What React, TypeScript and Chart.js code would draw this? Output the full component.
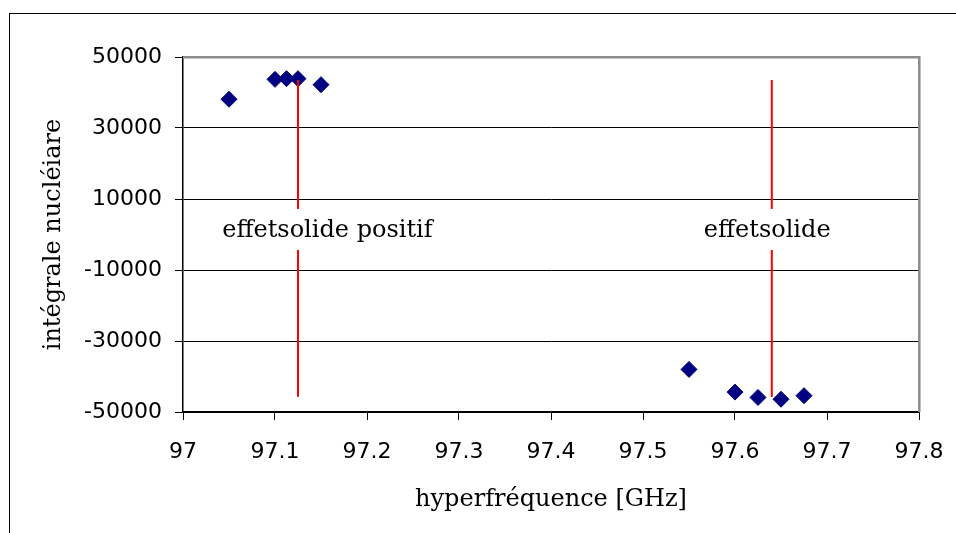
import React, { useEffect, useRef } from "react";
import { Chart, registerables } from "chart.js";

Chart.register(...registerables);

// Data
const frequencies = [97.05, 97.1, 97.1125, 97.125, 97.15, 97.55, 97.6, 97.625, 97.65, 97.675];
const integrals = [38100, 43700, 43900, 43900, 42200, -38000, -44400, -45900, -46400, -45400];

// Red marker lines
const markerX = [97.125, 97.64];
const markerTop = [43500, 43500];
const markerBottom = [-45700, -45800];

// Annotation texts
const annotationTexts = ["effetsolide positif", "effetsolide"];
const annotationX = [97.157, 97.635];
const annotationY = [1000, 1000];

// Ticks
const xTickValues = [97, 97.1, 97.2, 97.3, 97.4, 97.5, 97.6, 97.7, 97.8];
const xTickLabels = ["97", "97.1", "97.2", "97.3", "97.4", "97.5", "97.6", "97.7", "97.8"];
const yTickValues = [-50000, -30000, -10000, 10000, 30000, 50000];
const yTickLabels = ["-50000", "-30000", "-10000", "10000", "30000", "50000"];

const xTitle = "hyperfréquence [GHz]";
const yTitle = "intégrale nucléiare";

export default function App() {
  const canvasRef = useRef<HTMLCanvasElement | null>(null);

  useEffect(() => {
    const canvas = canvasRef.current;
    if (!canvas) return;

    const plotBorderPlugin = {
      id: "plotBorder",
      beforeDatasetsDraw(chart: any) {
        const { ctx, chartArea } = chart;
        ctx.save();
        ctx.strokeStyle = "#8c8c8c";
        ctx.lineWidth = 2.5;
        ctx.beginPath();
        ctx.moveTo(chartArea.left, chartArea.top + 0.3);
        ctx.lineTo(chartArea.right + 0.3, chartArea.top + 0.3);
        ctx.lineTo(chartArea.right + 0.3, chartArea.bottom);
        ctx.stroke();
        ctx.restore();
      },
    };

    const annotationPlugin = {
      id: "annotations",
      afterDatasetsDraw(chart: any) {
        const { ctx } = chart;
        const xs = chart.scales.x;
        const ys = chart.scales.y;
        ctx.save();
        ctx.font = '24px "DejaVu Serif"';
        ctx.textAlign = "center";
        ctx.textBaseline = "middle";
        annotationTexts.forEach((text, i) => {
          const px = xs.getPixelForValue(annotationX[i]);
          const py = ys.getPixelForValue(annotationY[i]);
          const w = ctx.measureText(text).width;
          ctx.fillStyle = "#fff";
          ctx.fillRect(px - w / 2 - 4, py - 22, w + 8, 41);
          ctx.fillStyle = "#000";
          ctx.fillText(text, px, py);
        });
        ctx.restore();
      },
    };

    const lineDatasets = markerX.map((mx, i) => ({
      type: "line" as const,
      data: [
        { x: mx, y: markerTop[i] },
        { x: mx, y: markerBottom[i] },
      ],
      borderColor: "#ff0000",
      borderWidth: 2,
      pointRadius: 0,
      showLine: true,
      fill: false,
    }));

    const chart = new Chart(canvas, {
      type: "scatter",
      data: {
        datasets: [
          ...lineDatasets,
          {
            type: "scatter",
            data: frequencies.map((f, i) => ({ x: f, y: integrals[i] })),
            pointStyle: "rectRot",
            pointRadius: 8,
            pointBackgroundColor: "#000080",
            pointBorderColor: "#000080",
            pointBorderWidth: 1,
          },
        ] as any,
      },
      options: {
        responsive: false,
        animation: false,
        layout: { padding: { left: 0, top: 49, right: 29, bottom: 0 } },
        plugins: {
          legend: { display: false },
          tooltip: { enabled: false },
        },
        scales: {
          x: {
            type: "linear",
            min: 97,
            max: 97.8,
            afterBuildTicks: (s: any) => {
              s.ticks = xTickValues.map((v) => ({ value: v }));
            },
            ticks: {
              callback: (_v: any, i: number) => xTickLabels[i],
              font: { family: "DejaVu Sans", size: 22 },
              color: "#000",
              padding: 19,
              maxRotation: 0,
              autoSkip: false,
            },
            grid: {
              drawOnChartArea: false,
              drawTicks: true,
              tickLength: 8,
              color: "#000",
              lineWidth: 1,
            },
            border: { color: "#000", width: 1.5 },
            title: {
              display: true,
              text: xTitle,
              font: { family: "DejaVu Serif", size: 24 },
              color: "#000",
              padding: { top: 0, bottom: 11 },
            },
            afterFit: (s: any) => {
              s.height = 113;
              s.paddingLeft = 0;
              s.paddingRight = 0;
            },
          },
          y: {
            type: "linear",
            min: -50000,
            max: 50000,
            afterBuildTicks: (s: any) => {
              s.ticks = yTickValues.map((v) => ({ value: v }));
            },
            ticks: {
              callback: (_v: any, i: number) => yTickLabels[i],
              font: { family: "DejaVu Sans", size: 22 },
              color: "#000",
              padding: 13,
            },
            grid: {
              color: "#000",
              lineWidth: 1,
              tickLength: 8,
            },
            border: { color: "#000", width: 1.5 },
            title: {
              display: true,
              text: yTitle,
              font: { family: "DejaVu Serif", size: 24 },
              color: "#000",
              padding: { top: 31, bottom: 0 },
            },
            afterFit: (s: any) => {
              s.width = 175;
              s.paddingTop = 0;
              s.paddingBottom = 0;
            },
          },
        },
      } as any,
      plugins: [plotBorderPlugin, annotationPlugin],
    });

    return () => {
      chart.destroy();
    };
  }, []);

  return (
    <div style={{ width: 940, height: 517 }}>
      <div
        style={{
          position: "fixed",
          left: 9,
          top: 13,
          right: 0,
          bottom: 0,
          borderLeft: "1.5px solid #000",
          borderTop: "1.5px solid #000",
          pointerEvents: "none",
        }}
      />
      <canvas ref={canvasRef} width={940} height={517} style={{ display: "block" }} />
    </div>
  );
}
